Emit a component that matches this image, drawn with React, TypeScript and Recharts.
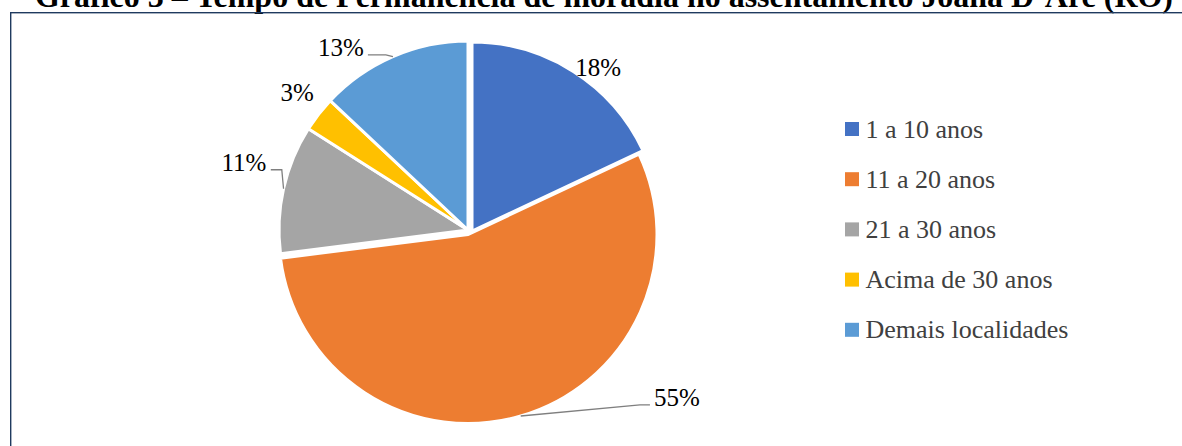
import React from 'react';
import { PieChart, Pie, Cell, Legend } from 'recharts';

// ---- data ----
const categories = ['1 a 10 anos', '11 a 20 anos', '21 a 30 anos', 'Acima de 30 anos', 'Demais localidades'];
const shares = [18, 55, 11, 3, 13];
const percentLabels = ['18%', '55%', '11%', '3%', '13%'];
const colors = ['#4472C4', '#ED7D31', '#A5A5A5', '#FFC000', '#5B9BD5'];
const title = 'Gráfico 3 – Tempo de Permanência de moradia no assentamento Joana D\u2019Arc (RO)';

const data = categories.map((name, i) => ({ name, value: shares[i], label: percentLabels[i] }));

// ---- layout ----
const W = 1182;
const H = 446;
const CX = 468;
const CY = 230;
const R = 189;
const explode: number[][] = [[4, 1], [0, 4.5], [0, 0], [0, 0], [0, 0]];
const labelPlace = [
  { angle: 51.3, dist: 208 },
  { angle: -38.8, dist: 268 },
  { angle: 163.3, dist: 234 },
  { angle: 141.3, dist: 219 },
  { angle: 124.9, dist: 222 },
];
const leaders: ({ side: 'left' | 'right'; len: number } | null)[] = [
  null,
  { side: 'left', len: 10 },
  { side: 'right', len: 11 },
  null,
  { side: 'right', len: 18 },
];
const LABEL_FONT = 25;
const RAD = Math.PI / 180;

const textWidth = (s: string, size: number) =>
  s.split('').reduce((w, ch) => w + (ch === '%' ? 0.833 : 0.5), 0) * size;

const renderLabel = (props: any) => {
  const { cx, cy, midAngle, index } = props;
  const place = labelPlace[index];
  const tx = cx + place.dist * Math.cos(place.angle * RAD);
  const ty = cy - place.dist * Math.sin(place.angle * RAD);
  const txt = percentLabels[index];
  const tw = textWidth(txt, LABEL_FONT);
  const ld = leaders[index];
  let line = null;
  if (ld) {
    const ex = cx + explode[index][0] + R * Math.cos(-midAngle * RAD);
    const ey = cy + explode[index][1] + R * Math.sin(-midAngle * RAD);
    const ly = ty + 7;
    const sx = ld.side === 'right' ? tx + tw / 2 + 4 : tx - tw / 2 - 4;
    const kx = ld.side === 'right' ? sx + ld.len : sx - ld.len;
    line = (
      <polyline
        points={`${sx},${ly} ${kx},${ly} ${ex},${ey}`}
        fill="none"
        stroke="#7F7F7F"
        strokeWidth={1.3}
      />
    );
  }
  return (
    <g key={`lbl-${index}`}>
      {line}
      <text
        x={tx}
        y={ty}
        dy="0.33em"
        textAnchor="middle"
        fontFamily="'Liberation Serif', 'Times New Roman', serif"
        fontSize={LABEL_FONT}
        fill="#000"
      >
        {txt}
      </text>
    </g>
  );
};

const LEG_SPACING = 50.2;
const LEG_PAD = 12;
const renderLegend = () => (
  <svg width={320} height={270} style={{ display: 'block', overflow: 'visible' }}>
    {categories.map((c, i) => (
      <g key={c}>
        <rect x={0} y={LEG_PAD + i * LEG_SPACING} width={14} height={14} fill={colors[i]} />
        <text
          x={20.5}
          y={LEG_PAD + i * LEG_SPACING + 15.6}
          fontFamily="'Liberation Serif', 'Times New Roman', serif"
          fontSize={26}
          fill="#404040"
        >
          {c}
        </text>
      </g>
    ))}
  </svg>
);

export default function App() {
  return (
    <div style={{ position: 'absolute', left: 0, top: 0, width: W, height: H, overflow: 'hidden', background: '#fff' }}>
      <svg width={W} height={H} style={{ position: 'absolute', left: 0, top: 0 }}>
        <text
          x={35}
          y={7}
          fontFamily="'Liberation Serif', 'Times New Roman', serif"
          fontWeight="bold"
          fontSize={32}
          textLength={1138}
          lengthAdjust="spacingAndGlyphs"
          fill="#000"
        >
          {title}
        </text>
        <rect x={10.7} y={12.7} width={1300} height={600} fill="none" stroke="#1F3A5F" strokeWidth={1.4} />
      </svg>
      <div style={{ position: 'absolute', left: 0, top: 0 }}>
        <PieChart width={W} height={H} margin={{ top: 0, right: 0, bottom: 0, left: 0 }}>
          {data.map((_, k) => (
            <Pie
              key={`pie-${k}`}
              data={data}
              dataKey="value"
              nameKey="name"
              cx={CX + explode[k][0]}
              cy={CY + explode[k][1]}
              outerRadius={R}
              startAngle={90}
              endAngle={-270}
              isAnimationActive={false}
              label={k === data.length - 1 ? renderLabel : false}
              labelLine={false}
              legendType="none"
            >
              {data.map((d, i) => (
                <Cell
                  key={d.name}
                  fill={i === k ? colors[i] : 'none'}
                  stroke={i === k ? '#ffffff' : 'none'}
                  strokeWidth={3}
                />
              ))}
            </Pie>
          ))}
          <Legend
            content={renderLegend}
            layout="vertical"
            align="right"
            verticalAlign="top"
            wrapperStyle={{ left: 845, top: 121.7 - LEG_PAD, right: 'auto', bottom: 'auto', width: 320, height: 270, overflow: 'visible' }}
          />
        </PieChart>
      </div>
    </div>
  );
}
